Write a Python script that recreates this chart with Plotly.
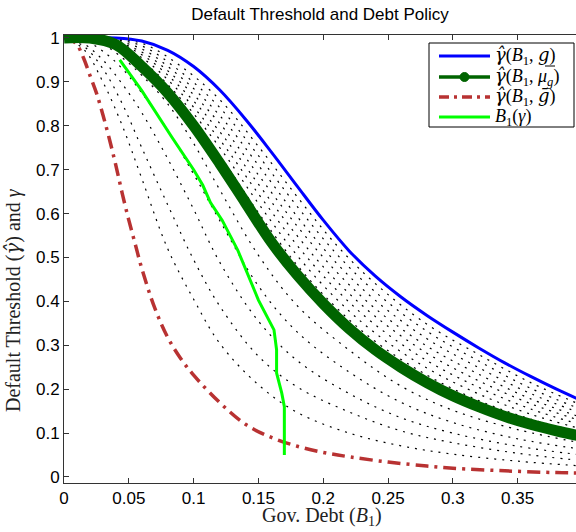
import plotly.graph_objects as go

# ---- data ----
grid_x = [0, 0.02, 0.04, 0.06, 0.08, 0.10, 0.12, 0.14, 0.16, 0.18, 0.20,
          0.22, 0.24, 0.26, 0.28, 0.30, 0.32, 0.34, 0.36, 0.38, 0.40]
blue_y = [1, 1, 1, 0.993, 0.972, 0.935, 0.882, 0.815, 0.74, 0.662, 0.585,
          0.515, 0.458, 0.41, 0.368, 0.33, 0.294, 0.26, 0.229, 0.2, 0.173]
green_y = [1, 1, 0.985, 0.935, 0.875, 0.80, 0.715, 0.625, 0.535, 0.46, 0.395,
           0.338, 0.29, 0.25, 0.215, 0.185, 0.16, 0.138, 0.12, 0.105, 0.092]

red_x = [0, 0.005, 0.01, 0.015, 0.02, 0.025, 0.03, 0.035, 0.04, 0.045, 0.05,
         0.055, 0.06, 0.07, 0.08, 0.09, 0.10, 0.12, 0.14, 0.16, 0.18, 0.20,
         0.22, 0.25, 0.28, 0.30, 0.34, 0.38, 0.40]
red_y = [1, 0.997, 0.985, 0.955, 0.915, 0.875, 0.825, 0.77, 0.71, 0.645, 0.585,
         0.53, 0.475, 0.385, 0.318, 0.27, 0.232, 0.17, 0.12, 0.09, 0.07, 0.056,
         0.046, 0.034, 0.025, 0.02, 0.014, 0.01, 0.009]

policy_x = [0.043, 0.06, 0.083, 0.10, 0.107, 0.113, 0.122, 0.134, 0.150, 0.158,
            0.162, 0.164, 0.164, 0.168, 0.170, 0.170]
policy_y = [0.95, 0.88, 0.775, 0.70, 0.665, 0.625, 0.585, 0.517, 0.403, 0.36,
            0.335, 0.29, 0.237, 0.191, 0.16, 0.05]

# dotted curves between blue and green (upper family)
upper_x = [0, 0.03, 0.06, 0.09, 0.12, 0.15, 0.18, 0.21, 0.24, 0.28, 0.32, 0.36, 0.40]
upper_1 = [1, 0.996, 0.942, 0.850, 0.733, 0.602, 0.482, 0.386, 0.309, 0.232, 0.174, 0.132, 0.101]
upper_2 = [1, 0.996, 0.948, 0.862, 0.751, 0.623, 0.504, 0.406, 0.328, 0.248, 0.189, 0.143, 0.109]
upper_3 = [1, 0.997, 0.955, 0.875, 0.769, 0.645, 0.527, 0.427, 0.347, 0.265, 0.204, 0.155, 0.118]
upper_4 = [1, 0.997, 0.962, 0.887, 0.787, 0.667, 0.549, 0.447, 0.366, 0.282, 0.219, 0.167, 0.127]
upper_5 = [1, 0.998, 0.968, 0.899, 0.806, 0.688, 0.571, 0.468, 0.384, 0.298, 0.234, 0.178, 0.135]
upper_6 = [1, 0.998, 0.975, 0.911, 0.824, 0.710, 0.593, 0.488, 0.403, 0.315, 0.249, 0.190, 0.144]
upper_7 = [1, 0.999, 0.982, 0.923, 0.842, 0.732, 0.616, 0.509, 0.422, 0.332, 0.264, 0.202, 0.153]
upper_8 = [1, 0.999, 0.988, 0.936, 0.860, 0.753, 0.638, 0.529, 0.441, 0.348, 0.279, 0.215, 0.163]

# dotted curves between green and red (lower family)
lower_x = [0, 0.015, 0.03, 0.045, 0.06, 0.08, 0.10, 0.12, 0.15, 0.18, 0.22, 0.26, 0.30, 0.35, 0.40]
lower_1 = [1, 0.998, 0.985, 0.955, 0.915, 0.85, 0.76, 0.655, 0.505, 0.39, 0.289, 0.207, 0.152, 0.108, 0.077]
lower_2 = [1, 0.995, 0.97, 0.93, 0.875, 0.79, 0.69, 0.585, 0.435, 0.33, 0.239, 0.17, 0.124, 0.087, 0.063]
lower_3 = [1, 0.987, 0.95, 0.895, 0.83, 0.725, 0.61, 0.49, 0.355, 0.265, 0.19, 0.135, 0.10, 0.07, 0.05]
lower_4 = [1, 0.982, 0.93, 0.85, 0.75, 0.62, 0.495, 0.39, 0.275, 0.205, 0.148, 0.105, 0.078, 0.054, 0.037]
lower_5 = [1, 0.975, 0.9, 0.8, 0.68, 0.52, 0.405, 0.305, 0.21, 0.147, 0.10, 0.071, 0.052, 0.036, 0.025]

x_ticks = [0, 0.05, 0.1, 0.15, 0.2, 0.25, 0.3, 0.35]
x_tick_text = ["0", "0.05", "0.1", "0.15", "0.2", "0.25", "0.3", "0.35"]
y_ticks = [0, 0.1, 0.2, 0.3, 0.4, 0.5, 0.6, 0.7, 0.8, 0.9, 1]
y_tick_text = ["0", "0.1", "0.2", "0.3", "0.4", "0.5", "0.6", "0.7", "0.8", "0.9", "1"]

DJ = "<span style='font-family:DejaVu Serif'><i>{}</i></span>"
GH = DJ.format("γ̂")
legend_names = [
    GH + "(<i>B</i><sub>1</sub>, " + DJ.format("g") + ")",
    GH + "(<i>B</i><sub>1</sub>, <i>μ</i><sub><i>g</i></sub>)",
    GH + "(<i>B</i><sub>1</sub>, " + DJ.format("ḡ") + ")",
    "<i>B</i><sub>1</sub>(<i>γ</i>)",
]

# ---- figure ----
L, T, W, H = 64, 35, 512, 448  # plot area in pixels


def px(xp):
    return (xp - L) / W


def py(yp):
    return (T + H - yp) / H


fig = go.Figure()

dot_style = dict(color="black", width=1.2, dash="2px,6px")
for ys in [upper_1, upper_2, upper_3, upper_4, upper_5, upper_6, upper_7, upper_8]:
    fig.add_trace(go.Scatter(x=upper_x, y=ys, mode="lines", line=dict(shape="spline", **dot_style),
                             showlegend=False, hoverinfo="skip"))
for ys in [lower_1, lower_2, lower_3, lower_4, lower_5]:
    fig.add_trace(go.Scatter(x=lower_x, y=ys, mode="lines", line=dict(shape="spline", **dot_style),
                             showlegend=False, hoverinfo="skip"))

RED, BLUE, DKGREEN, LTGREEN = "#b83232", "#0000ff", "#006400", "#00ff00"
RED_DASH = "13px,6px,3px,6px"

fig.add_trace(go.Scatter(x=red_x, y=red_y, mode="lines", showlegend=False,
                         line=dict(color=RED, width=3.5, dash=RED_DASH, shape="spline")))
fig.add_trace(go.Scatter(x=grid_x, y=blue_y, mode="lines", showlegend=False,
                         line=dict(color=BLUE, width=3, shape="spline")))
fig.add_trace(go.Scatter(x=grid_x, y=green_y, mode="lines", showlegend=False,
                         line=dict(color=DKGREEN, width=11, shape="spline")))
fig.add_trace(go.Scatter(x=policy_x, y=policy_y, mode="lines", showlegend=False,
                         line=dict(color=LTGREEN, width=3)))

axis_common = dict(showline=True, linecolor="#333", linewidth=1, ticks="inside", ticklen=5,
                   tickcolor="#333", showgrid=False, zeroline=False,
                   tickfont=dict(family="Liberation Sans, Arial", size=17, color="black"))
fig.update_xaxes(range=[0, 0.395], tickvals=x_ticks, ticktext=x_tick_text, mirror="ticks", **axis_common)
fig.update_yaxes(range=[-0.0137, 1.0068], tickvals=y_ticks, ticktext=y_tick_text, **axis_common)

# manual legend box (paper coordinates)
leg_rows = [56, 77, 97, 117]
leg_styles = [dict(color=BLUE, width=3), dict(color=DKGREEN, width=3.5),
              dict(color=RED, width=3.5, dash="10px,5px,3px,5px"), dict(color=LTGREEN, width=3)]
shapes = [dict(type="rect", xref="paper", yref="paper", x0=px(429), x1=px(574), y0=py(127), y1=py(43),
               line=dict(color="black", width=1), fillcolor="white", layer="above")]
annotations = []
for row, style, name in zip(leg_rows, leg_styles, legend_names):
    shapes.append(dict(type="line", xref="paper", yref="paper", x0=px(439), x1=px(490),
                       y0=py(row), y1=py(row), line=style, layer="above"))
    annotations.append(dict(text=name, xref="paper", yref="paper", x=px(493), y=py(row),
                            xanchor="left", yanchor="middle", showarrow=False,
                            font=dict(family="Liberation Serif, Times New Roman", size=18, color="black")))
shapes.append(dict(type="circle", xref="paper", yref="paper", x0=px(460), x1=px(469),
                   y0=py(77 + 4.5), y1=py(77 - 4.5), line=dict(color=DKGREEN, width=1),
                   fillcolor=DKGREEN, layer="above"))
# underline of g in the first legend entry
shapes.append(dict(type="line", xref="paper", yref="paper", x0=px(545), x1=px(555),
                   y0=py(66), y1=py(66), line=dict(color="black", width=1), layer="above"))

annotations += [
    dict(text="Gov. Debt (<i>B</i><sub>1</sub>)", xref="paper", yref="paper",
         x=0.504, y=-0.0737, xanchor="center", yanchor="middle", showarrow=False,
         font=dict(family="Liberation Serif, Times New Roman", size=20, color="#222")),
    dict(text="Default Threshold (" + GH + ") and <i>γ</i>", xref="paper", yref="paper",
         x=-0.0996, y=py(300), xanchor="center", yanchor="middle", textangle=-90,
         showarrow=False,
         font=dict(family="Liberation Serif, Times New Roman", size=20, color="#222")),
]

fig.update_layout(
    width=576, height=532,
    margin=dict(l=L, r=0, t=T, b=532 - T - H),
    plot_bgcolor="white", paper_bgcolor="white",
    showlegend=False,
    title=dict(text="Default Threshold and Debt Policy", xref="paper", x=0.5, xanchor="center",
               y=1 - 14 / 532, yanchor="middle",
               font=dict(family="Liberation Sans, Arial", size=17, color="black")),
    shapes=shapes,
    annotations=annotations,
)

fig.write_html("out.html", config={"displayModeBar": False},
               post_script="document.body.style.margin='0';")
